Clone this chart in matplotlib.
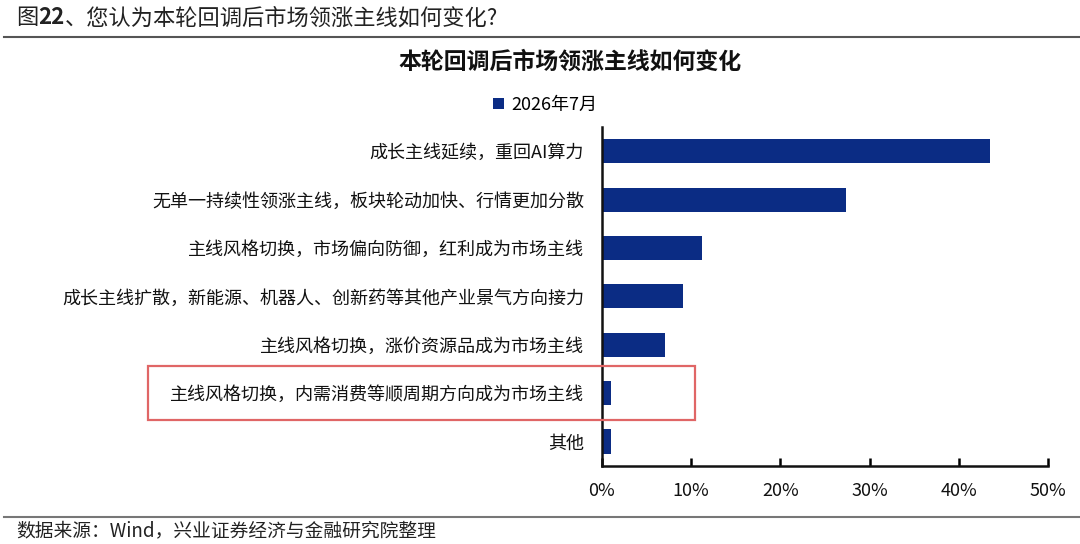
import matplotlib
matplotlib.use('Agg')
import matplotlib.pyplot as plt
from matplotlib.patches import Rectangle
from matplotlib.lines import Line2D

plt.rcParams['font.family'] = ['Noto Sans CJK SC', 'DejaVu Sans']

# Données
categories = [
    '成长主线延续，重回AI算力',
    '无单一持续性领涨主线，板块轮动加快、行情更加分散',
    '主线风格切换，市场偏向防御，红利成为市场主线',
    '成长主线扩散，新能源、机器人、创新药等其他产业景气方向接力',
    '主线风格切换，涨价资源品成为市场主线',
    '主线风格切换，内需消费等顺周期方向成为市场主线',
    '其他',
]
values = [43.5, 27.3, 11.2, 9.1, 7.1, 1.0, 1.0]
series_name = '2026年7月'
xticks = [0, 10, 20, 30, 40, 50]
xtick_labels = ['0%', '10%', '20%', '30%', '40%', '50%']

bar_color = '#0b2c84'

fig = plt.figure(figsize=(10.8, 5.44), dpi=100)
ax = fig.add_axes([0.5574, 0.1439, 0.413, 0.6226])

y = list(range(len(categories)))
ax.barh(y, values, height=0.5, color=bar_color, label=series_name)
ax.set_ylim(6.5, -0.5)
ax.set_xlim(0, 50)
ax.set_yticks(y)
ax.set_yticklabels(categories, fontsize=13, color='#111111')
ax.set_xticks(xticks)
ax.set_xticklabels(xtick_labels, fontsize=13, color='#111111')
ax.tick_params(axis='y', length=0, pad=13)
ax.tick_params(axis='x', direction='in', length=6, width=1.8, pad=12)
for s in ['top', 'right']:
    ax.spines[s].set_visible(False)
for s in ['left', 'bottom']:
    ax.spines[s].set_linewidth(1.8)
    ax.spines[s].set_color('#111111')

# Légende
leg = ax.legend(loc='center', bbox_to_anchor=(545 / 1080, 1 - 105 / 544),
                bbox_transform=fig.transFigure, frameon=False, fontsize=13,
                handlelength=0.6, handleheight=0.6, handletextpad=0.4)

# Titre du graphique
fig.text(570 / 1080, 1 - 62 / 544, '本轮回调后市场领涨主线如何变化',
         ha='center', va='center', fontsize=16.5, fontweight='bold', color='#111111')

# En-tête avec "22" en gras
fig.canvas.draw()
renderer = fig.canvas.get_renderer()
x0 = 16 / 1080
yh = 1 - 18 / 544
for part, weight in [('图', 'normal'), ('22', 'bold'), ('、您认为本轮回调后市场领涨主线如何变化?', 'normal')]:
    t = fig.text(x0, yh, part, ha='left', va='center', fontsize=16,
                 fontweight=weight, color='#222222')
    bb = t.get_window_extent(renderer=renderer)
    x0 += bb.width / fig.bbox.width

# Lignes de séparation
fig.add_artist(Line2D([4 / 1080, 1], [1 - 37 / 544] * 2, color='#555555', lw=1.5))
fig.add_artist(Line2D([4 / 1080, 1], [1 - 517 / 544] * 2, color='#777777', lw=1.5))

# Source
fig.text(16 / 1080, 1 - 531 / 544, '数据来源：Wind，兴业证券经济与金融研究院整理',
         ha='left', va='center', fontsize=13.5, color='#222222')

# Encadré rouge
fig.add_artist(Rectangle((148 / 1080, 1 - 419.5 / 544), (695 - 148) / 1080, 54 / 544,
                         transform=fig.transFigure, fill=False, edgecolor='#e06666', lw=1.6))

fig.savefig('out.png', dpi=100, facecolor='white')
